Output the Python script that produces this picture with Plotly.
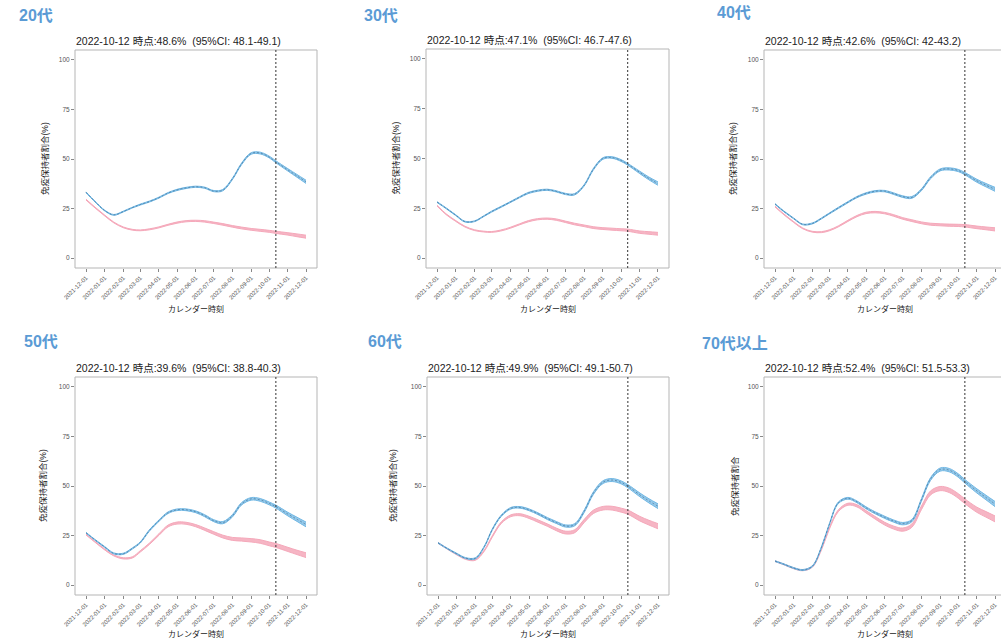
import pandas as pd
import plotly.graph_objects as go

# ---- data ---------------------------------------------------------------
dates = ["2021-12-01", "2021-12-16", "2022-01-01", "2022-01-16", "2022-02-01",
         "2022-02-16", "2022-03-01", "2022-03-16", "2022-04-01", "2022-04-16",
         "2022-05-01", "2022-05-16", "2022-06-01", "2022-06-16", "2022-07-01",
         "2022-07-16", "2022-08-01", "2022-08-16", "2022-09-01", "2022-09-16",
         "2022-10-01", "2022-10-12", "2022-11-01", "2022-11-16", "2022-12-01"]

age_groups = ["20代", "30代", "40代", "50代", "60代", "70代以上"]
y_titles = ["免疫保持者割合(%)", "免疫保持者割合(%)", "免疫保持者割合(%)",
            "免疫保持者割合(%)", "免疫保持者割合(%)", "免疫保持者割合"]
x_title = "カレンダー時刻"

snapshot_date = "2022-10-12"
snapshot_est = [48.6, 47.1, 42.6, 39.6, 49.9, 52.4]
snapshot_lo = [48.1, 46.7, 42.0, 38.8, 49.1, 51.5]
snapshot_hi = [49.1, 47.6, 43.2, 40.3, 50.7, 53.3]

x_tick_dates = ["2021-12-01", "2022-01-01", "2022-02-01", "2022-03-01",
                "2022-04-01", "2022-05-01", "2022-06-01", "2022-07-01",
                "2022-08-01", "2022-09-01", "2022-10-01", "2022-11-01",
                "2022-12-01"]
y_ticks = [0, 25, 50, 75, 100]

# dashed (blue) series, estimate and half-width of its band
dashed_20s = [33.2, 28.5, 24.0, 21.8, 23.5, 25.5, 27.0, 28.5, 30.5, 32.8, 34.4, 35.4, 36.0,
              35.5, 33.8, 34.3, 40.0, 47.5, 52.8, 53.0, 51.0, 48.6, 44.5, 41.5, 38.5]
dashed_30s = [28.1, 25.0, 21.5, 18.3, 18.5, 21.0, 23.3, 25.6, 28.1, 30.5, 32.7, 33.8, 34.3,
              33.5, 32.2, 32.0, 36.5, 44.5, 50.0, 50.5, 49.0, 47.1, 43.0, 40.0, 37.4]
dashed_40s = [27.3, 23.5, 20.0, 17.0, 17.5, 20.0, 22.5, 25.3, 28.2, 30.8, 32.6, 33.7, 33.8,
              32.5, 31.0, 30.6, 34.5, 40.5, 44.5, 45.0, 44.2, 42.6, 39.0, 36.8, 34.7]
dashed_50s = [26.4, 22.8, 19.2, 16.0, 15.8, 18.5, 21.5, 27.5, 32.5, 36.5, 38.0, 38.0, 37.0,
              35.0, 32.5, 31.5, 35.0, 41.0, 43.5, 43.0, 41.2, 39.6, 35.8, 33.2, 30.6]
dashed_60s = [21.3, 18.5, 15.8, 13.6, 13.5, 19.5, 28.0, 35.0, 38.8, 39.2, 38.0, 36.0, 33.5,
              31.5, 29.8, 30.5, 37.5, 46.5, 52.0, 53.0, 51.8, 49.9, 45.5, 42.5, 39.8]
dashed_70s = [12.1, 10.5, 8.6, 7.6, 9.5, 19.0, 30.5, 41.5, 43.8, 42.0, 39.0, 36.5, 34.2,
              32.3, 31.0, 32.5, 43.0, 53.5, 58.3, 58.0, 55.3, 52.4, 47.5, 44.2, 40.9]

dashed_hw_20s = [0.2, 0.2, 0.2, 0.2, 0.2, 0.2, 0.25, 0.25, 0.25, 0.25, 0.3, 0.3, 0.3,
                 0.3, 0.3, 0.35, 0.35, 0.4, 0.4, 0.45, 0.45, 0.5, 0.6, 0.7, 0.8]
dashed_hw_30s = [0.2, 0.2, 0.2, 0.2, 0.2, 0.2, 0.25, 0.25, 0.25, 0.25, 0.3, 0.3, 0.3,
                 0.3, 0.3, 0.35, 0.35, 0.4, 0.4, 0.4, 0.45, 0.45, 0.6, 0.7, 0.85]
dashed_hw_40s = [0.2, 0.2, 0.2, 0.2, 0.25, 0.25, 0.25, 0.3, 0.3, 0.3, 0.35, 0.35, 0.35,
                 0.4, 0.4, 0.45, 0.45, 0.5, 0.5, 0.55, 0.55, 0.6, 0.75, 0.85, 1.0]
dashed_hw_50s = [0.2, 0.2, 0.25, 0.25, 0.3, 0.3, 0.3, 0.35, 0.35, 0.4, 0.4, 0.45, 0.45,
                 0.5, 0.5, 0.55, 0.6, 0.6, 0.65, 0.7, 0.7, 0.75, 0.9, 1.05, 1.2]
dashed_hw_60s = [0.2, 0.2, 0.25, 0.25, 0.3, 0.3, 0.35, 0.35, 0.4, 0.4, 0.45, 0.45, 0.5,
                 0.5, 0.55, 0.55, 0.6, 0.65, 0.7, 0.75, 0.75, 0.8, 0.95, 1.05, 1.2]
dashed_hw_70s = [0.2, 0.2, 0.25, 0.25, 0.3, 0.3, 0.35, 0.4, 0.45, 0.45, 0.5, 0.5, 0.55,
                 0.55, 0.6, 0.6, 0.65, 0.7, 0.8, 0.85, 0.85, 0.9, 1.05, 1.15, 1.3]

# solid (pink) series, estimate and half-width of its band
solid_20s = [29.5, 25.5, 21.5, 18.0, 15.5, 14.3, 14.0, 14.5, 15.5, 16.8, 17.9, 18.6, 18.8,
             18.5, 17.8, 17.0, 16.0, 15.2, 14.5, 14.0, 13.5, 13.0, 12.2, 11.5, 10.8]
solid_30s = [26.3, 22.0, 18.6, 15.8, 14.0, 13.3, 13.1, 13.8, 15.2, 16.9, 18.5, 19.5, 19.8,
             19.3, 18.2, 17.1, 16.2, 15.3, 14.8, 14.5, 14.2, 14.0, 13.0, 12.6, 12.2]
solid_40s = [26.0, 22.0, 18.2, 15.0, 13.3, 13.1, 14.0, 16.0, 18.8, 21.2, 22.8, 23.2, 22.7,
             21.5, 20.0, 18.9, 17.8, 17.1, 16.8, 16.6, 16.5, 16.3, 15.5, 15.0, 14.5]
solid_50s = [25.5, 21.8, 18.0, 15.0, 13.5, 14.0, 17.0, 20.8, 25.5, 29.8, 31.3, 31.2, 30.0,
             28.2, 26.3, 24.5, 23.3, 23.0, 22.6, 22.0, 20.8, 20.0, 18.0, 16.5, 15.1]
solid_60s = [21.3, 18.4, 15.5, 13.2, 12.8, 17.5, 24.5, 31.5, 35.0, 35.5, 34.2, 32.3, 30.2,
             28.0, 26.5, 27.2, 32.5, 37.0, 38.8, 38.8, 37.8, 36.8, 33.5, 31.5, 29.7]
solid_70s = [12.1, 10.4, 8.5, 7.5, 9.3, 18.0, 28.5, 37.5, 40.8, 40.0, 37.0, 34.0, 31.0,
             29.0, 28.0, 30.0, 39.0, 46.5, 48.7, 47.8, 45.0, 42.3, 38.0, 35.7, 33.4]

solid_hw_20s = [0.2, 0.2, 0.2, 0.2, 0.2, 0.2, 0.2, 0.25, 0.25, 0.25, 0.3, 0.3, 0.3,
                0.35, 0.35, 0.4, 0.4, 0.45, 0.45, 0.5, 0.5, 0.55, 0.6, 0.7, 0.75]
solid_hw_30s = [0.2, 0.2, 0.2, 0.2, 0.2, 0.2, 0.2, 0.25, 0.25, 0.25, 0.3, 0.3, 0.3,
                0.35, 0.35, 0.4, 0.4, 0.45, 0.45, 0.5, 0.5, 0.55, 0.6, 0.65, 0.7]
solid_hw_40s = [0.2, 0.2, 0.2, 0.2, 0.2, 0.25, 0.25, 0.25, 0.3, 0.3, 0.35, 0.35, 0.35,
                0.4, 0.4, 0.45, 0.45, 0.5, 0.5, 0.55, 0.55, 0.6, 0.65, 0.7, 0.8]
solid_hw_50s = [0.2, 0.2, 0.25, 0.25, 0.3, 0.3, 0.35, 0.35, 0.4, 0.45, 0.5, 0.5, 0.55,
                0.6, 0.65, 0.7, 0.75, 0.8, 0.85, 0.9, 0.95, 1.0, 1.05, 1.1, 1.2]
solid_hw_60s = [0.2, 0.2, 0.25, 0.25, 0.3, 0.3, 0.35, 0.4, 0.45, 0.5, 0.55, 0.6, 0.6,
                0.65, 0.7, 0.75, 0.8, 0.85, 0.9, 0.95, 1.0, 1.05, 1.15, 1.2, 1.3]
solid_hw_70s = [0.2, 0.2, 0.25, 0.25, 0.3, 0.35, 0.4, 0.45, 0.5, 0.55, 0.6, 0.65, 0.7,
                0.75, 0.8, 0.85, 0.9, 1.0, 1.05, 1.1, 1.15, 1.2, 1.3, 1.4, 1.5]

dashed_all = [dashed_20s, dashed_30s, dashed_40s, dashed_50s, dashed_60s, dashed_70s]
dashed_hw_all = [dashed_hw_20s, dashed_hw_30s, dashed_hw_40s, dashed_hw_50s, dashed_hw_60s, dashed_hw_70s]
solid_all = [solid_20s, solid_30s, solid_40s, solid_50s, solid_60s, solid_70s]
solid_hw_all = [solid_hw_20s, solid_hw_30s, solid_hw_40s, solid_hw_50s, solid_hw_60s, solid_hw_70s]

# ---- layout geometry (pixels of a 1001 x 639 page) -----------------------
W, H = 1001, 639
panel_frames = [  # left, right, top, bottom
    (75, 317, 50, 268), (426, 669, 49, 268), (764, 1006, 50, 268),
    (75, 317, 377, 595), (427, 669, 377, 595), (764, 1006, 377, 595),
]
group_label_pos = [(17, 15), (362, 15), (715, 13), (22, 342), (366, 342), (700, 343)]
y_title_x = [45, 395, 733, 43, 393, 735]
x_title_y = [309, 309, 309, 634, 634, 634]

BLUE = "#72b8e4"
BLUE_FILL = "rgba(114,184,228,0.75)"
DASH_COL = "rgba(50,95,135,0.7)"
PINK = "#f5a8ba"
PINK_FILL = "rgba(245,168,186,0.85)"
FRAME = "#b5b5b5"
TICK_TXT = "#555555"
LABEL_BLUE = "#5b9bd5"
FONT = "Liberation Sans, Noto Sans CJK JP, sans-serif"

t_start = pd.Timestamp(dates[0])
t_end = pd.Timestamp(dates[-1])
span_days = (t_end - t_start).days
pad_days = span_days * 0.05


def px_x(p):
    return p / W


def px_y(p):
    return 1 - p / H


fig = go.Figure()
layout = dict(
    template="none",
    width=W, height=H, margin=dict(l=0, r=0, t=0, b=0, pad=0, autoexpand=False),
    paper_bgcolor="white", plot_bgcolor="white", showlegend=False,
    font=dict(family=FONT, color="#222222"),
)
annotations = []
shapes = []

for i, grp in enumerate(age_groups):
    n = "" if i == 0 else str(i + 1)
    xa, ya = "x" + n, "y" + n
    left, right, top, bottom = panel_frames[i]

    # x range with 5% padding; clip the domain at the page edge
    days_per_px = (span_days + 2 * pad_days) / (right - left)
    r0 = t_start - pd.Timedelta(days=pad_days)
    vis_right = min(right, W)
    r1 = r0 + pd.Timedelta(days=(vis_right - left) * days_per_px)

    layout["xaxis" + n] = dict(
        domain=[px_x(left), px_x(vis_right)], anchor=ya, type="date",
        range=[r0, r1], tickvals=x_tick_dates, ticktext=x_tick_dates,
        tickangle=-45, ticks="outside", ticklen=3, tickcolor="#888888",
        tickwidth=0.8, showgrid=False, zeroline=False, showline=False,
        automargin=False,
        tickfont=dict(size=6, color=TICK_TXT, family=FONT),
    )
    layout["yaxis" + n] = dict(
        domain=[px_y(bottom), px_y(top)], anchor=xa, range=[-5, 105],
        tickvals=y_ticks, ticks="outside", ticklen=3, tickcolor="#888888",
        tickwidth=0.8, showgrid=False, zeroline=False, showline=False,
        automargin=False,
        tickfont=dict(size=6.5, color=TICK_TXT, family=FONT),
    )

    # pink band
    s, shw = solid_all[i], solid_hw_all[i]
    fig.add_trace(go.Scatter(x=dates, y=[v + h for v, h in zip(s, shw)], xaxis=xa, yaxis=ya,
                             mode="lines", line=dict(color=PINK, width=1, shape="spline"),
                             hoverinfo="skip"))
    fig.add_trace(go.Scatter(x=dates, y=[v - h for v, h in zip(s, shw)], xaxis=xa, yaxis=ya,
                             mode="lines", line=dict(color=PINK, width=1, shape="spline"),
                             fill="tonexty", fillcolor=PINK_FILL, hoverinfo="skip"))

    # blue band with dashed estimate line
    d, dhw = dashed_all[i], dashed_hw_all[i]
    fig.add_trace(go.Scatter(x=dates, y=[v + h for v, h in zip(d, dhw)], xaxis=xa, yaxis=ya,
                             mode="lines", line=dict(color=BLUE, width=1, shape="spline"),
                             hoverinfo="skip"))
    fig.add_trace(go.Scatter(x=dates, y=[v - h for v, h in zip(d, dhw)], xaxis=xa, yaxis=ya,
                             mode="lines", line=dict(color=BLUE, width=1, shape="spline"),
                             fill="tonexty", fillcolor=BLUE_FILL, hoverinfo="skip"))
    fig.add_trace(go.Scatter(x=dates, y=d, xaxis=xa, yaxis=ya, mode="lines",
                             line=dict(color=DASH_COL, width=0.8, dash="2px,2px", shape="spline"),
                             hoverinfo="skip"))

    # panel frame
    shapes.append(dict(type="rect", xref="paper", yref="paper",
                       x0=px_x(left), x1=px_x(right), y0=px_y(bottom), y1=px_y(top),
                       line=dict(color=FRAME, width=1), fillcolor="rgba(0,0,0,0)",
                       layer="above"))
    # reference date
    shapes.append(dict(type="line", xref=xa, yref=ya + " domain",
                       x0=snapshot_date, x1=snapshot_date, y0=0, y1=1,
                       line=dict(color="#333333", width=1, dash="2px,2px"), layer="above"))

    # texts
    gx, gy = group_label_pos[i]
    annotations.append(dict(text="<b>%s</b>" % grp, xref="paper", yref="paper",
                            x=px_x(gx), y=px_y(gy), xanchor="left", yanchor="middle",
                            showarrow=False, font=dict(size=16, color=LABEL_BLUE, family=FONT)))
    subtitle = "%s 時点:%.1f%%  (95%%CI: %s-%s)" % (
        snapshot_date, snapshot_est[i], ("%g" % snapshot_lo[i]), ("%g" % snapshot_hi[i]))
    annotations.append(dict(text=subtitle, xref="paper", yref="paper",
                            x=px_x(left - 1), y=px_y(top - 1), xanchor="left", yanchor="bottom",
                            showarrow=False, font=dict(size=10.5, color="#222222", family=FONT)))
    annotations.append(dict(text=y_titles[i], xref="paper", yref="paper",
                            x=px_x(y_title_x[i]), y=px_y((top + bottom) / 2),
                            xanchor="center", yanchor="middle", textangle=-90,
                            showarrow=False, font=dict(size=8.5, color="#222222", family=FONT)))
    annotations.append(dict(text=x_title, xref="paper", yref="paper",
                            x=px_x((left + right) / 2), y=px_y(x_title_y[i]),
                            xanchor="center", yanchor="middle",
                            showarrow=False, font=dict(size=8, color="#222222", family=FONT)))

layout["annotations"] = annotations
layout["shapes"] = shapes
fig.update_layout(**layout)
fig.write_html("out.html")
